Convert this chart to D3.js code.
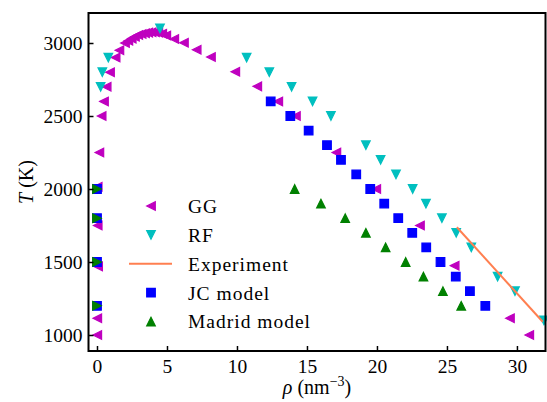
<!DOCTYPE html>
<html>
<head>
<meta charset="utf-8">
<script src="https://cdn.jsdelivr.net/npm/d3@7"></script>
<style>
body { margin: 0; background: #fff; }
text { font-family: "Liberation Serif", "DejaVu Serif", serif; fill: #000; }
</style>
</head>
<body>
<svg id="chart" width="547" height="402"></svg>
<script>

/// GG series (rho in nm^-3, T in K)
var ggRho = [0.02, 0.02, 0.08, 0.05, 0.05, 0.17, 0.33, 0.5, 0.69, 0.93, 1.33, 1.6, 2.0,
             2.24, 2.48, 2.71, 2.95, 3.19, 3.43, 3.66, 3.9, 4.14, 4.38, 4.66, 4.95,
             5.52, 6.21, 7.12, 8.14, 9.88, 11.45, 12.95, 14.21, 17.1, 19.95, 23.07, 25.55, 29.5, 30.88];
var ggT   = [1000, 1115, 1470, 1750, 2015, 2250, 2500, 2600, 2700, 2800, 2900, 2950, 3000,
             3015, 3030, 3043, 3055, 3062, 3067, 3071, 3073, 3073, 3071, 3064, 3052,
             3027, 3002, 2954, 2904, 2803, 2703, 2600, 2500, 2250, 2000, 1750, 1475, 1115, 1000];

/// RF series
var rfRho = [0.26, 0.38, 0.81, 4.5, 10.69, 12.31, 13.9, 15.4, 16.71, 19.21, 20.26, 21.36,
             22.55, 23.5, 24.64, 25.66, 26.74, 28.62, 29.86, 31.93];
var rfT   = [2700, 2800, 2900, 3100, 2900, 2800, 2700, 2600, 2500, 2300, 2200, 2100,
             2000, 1900, 1800, 1700, 1600, 1400, 1300, 1100];

/// Experiment
var expRho = [25.71, 31.84];
var expT   = [1738, 1091];

/// JC model
var jcRho = [0, 0, 0, 0, 12.41, 13.81, 15.12, 16.43, 17.43, 18.52, 19.52, 20.52, 21.52,
             22.52, 23.52, 24.54, 25.63, 26.64, 27.74];
var jcT   = [2000, 1800, 1500, 1200, 2600, 2500, 2400, 2300, 2200, 2100, 2000, 1900, 1800,
             1700, 1600, 1500, 1400, 1300, 1200];

/// Madrid model (liquid branch, vapour branch)
var madRho = [14.12, 16.0, 17.73, 19.21, 20.62, 22.05, 23.32, 24.71, 26.02];
var madT   = [2000, 1900, 1800, 1700, 1600, 1500, 1400, 1300, 1200];
var madVapRho = [0, 0, 0, 0];
var madVapT   = [2000, 1800, 1500, 1200];

var legendLabels = ["GG", "RF", "Experiment", "JC model", "Madrid model"];
var xTicks = [0, 5, 10, 15, 20, 25, 30];
var yTicks = [1000, 1500, 2000, 2500, 3000];

var FONT = '"Liberation Serif", "DejaVu Serif", serif';

var svg = d3.select("#chart"),
    margin = {top: 13, right: 1.5, bottom: 51, left: 88.5},
    width = +svg.attr("width") - margin.left - margin.right,
    height = +svg.attr("height") - margin.top - margin.bottom;

var g = svg.append("g").attr("transform", "translate(" + margin.left + "," + margin.top + ")");

var x = d3.scaleLinear().domain([-0.607, 32.04]).range([0, width]);
var y = d3.scaleLinear().domain([890.4, 3205.5]).range([height, 0]);

var ms = 8.6; /// marker size in px

/// triangle / square paths like matplotlib markers
function marker(kind, r) {
  if (kind == "<") return "M" + (-r) + ",0L" + r + "," + (-r) + "L" + r + "," + r + "Z";
  if (kind == ">") return "M" + r + ",0L" + (-r) + "," + (-r) + "L" + (-r) + "," + r + "Z";
  if (kind == "v") return "M0," + r + "L" + (-r) + "," + (-r) + "L" + r + "," + (-r) + "Z";
  if (kind == "^") return "M0," + (-r) + "L" + (-r) + "," + r + "L" + r + "," + r + "Z";
  return "M" + (-r) + "," + (-r) + "H" + r + "V" + r + "H" + (-r) + "Z";
}

function zip(a, b) { return a.map(function(d, i) { return {x: d, y: b[i]}; }); }

function scatter(xs, ys, kind, color) {
  g.append("g").selectAll("path")
    .data(zip(xs, ys))
    .enter().append("path")
      .attr("transform", function(d) { return "translate(" + x(d.x) + "," + y(d.y) + ")"; })
      .attr("d", marker(kind, ms / 2))
      .attr("fill", color)
      .attr("stroke", color)
      .attr("stroke-width", 1.2);
}

scatter(ggRho, ggT, "<", "#bf00bf");
scatter(rfRho, rfT, "v", "#00bfbf");

var line = d3.line().x(function(d) { return x(d.x); }).y(function(d) { return y(d.y); });
g.append("path")
  .datum(zip(expRho, expT))
  .attr("fill", "none")
  .attr("stroke", "#ff7f50")
  .attr("stroke-width", 2)
  .attr("d", line);

scatter(jcRho, jcT, "s", "#0000ff");
scatter(madRho, madT, "^", "#008000");
scatter(madVapRho, madVapT, ">", "#008000");

/// axes
var xAxis = d3.axisBottom(x).tickValues(xTicks).tickFormat(d3.format("d"))
    .tickSizeInner(-5).tickSizeOuter(0).tickPadding(7);
var yAxis = d3.axisLeft(y).tickValues(yTicks).tickFormat(d3.format("d"))
    .tickSizeInner(-5).tickSizeOuter(0).tickPadding(6);

var gx = g.append("g").attr("transform", "translate(0," + height + ")").call(xAxis);
var gy = g.append("g").call(yAxis);
[gx, gy].forEach(function(a) {
  a.attr("font-family", FONT).attr("font-size", 19.5);
  a.select(".domain").remove();
  a.selectAll(".tick line").attr("stroke", "#000").attr("stroke-width", 1.5);
  a.selectAll(".tick text").attr("fill", "#000").attr("font-family", FONT).attr("font-size", 19.5);
});
gx.selectAll(".tick text").attr("dy", "0.75em");

/// frame
g.append("rect")
  .attr("width", width).attr("height", height)
  .attr("fill", "none").attr("stroke", "#000").attr("stroke-width", 2);

/// axis labels
svg.append("text")
  .attr("transform", "translate(33," + (margin.top + height / 2) + ") rotate(-90)")
  .attr("text-anchor", "middle")
  .style("font-size", "20px")
  .html('<tspan font-style="italic">T</tspan> (K)');

svg.append("text")
  .attr("x", margin.left + width / 2).attr("y", 394)
  .attr("text-anchor", "middle")
  .style("font-size", "20px")
  .html('<tspan font-style="italic">ρ</tspan> (nm<tspan dy="-8" font-size="14px">−3</tspan><tspan dy="8">)</tspan>');

/// legend
var legendKinds = ["<", "v", "line", "s", "^"];
var legendColors = ["#bf00bf", "#00bfbf", "#ff7f50", "#0000ff", "#008000"];
var lg = svg.append("g").attr("transform", "translate(0,206)");
legendLabels.forEach(function(lab, i) {
  var row = lg.append("g").attr("transform", "translate(0," + (i * 28.9) + ")");
  if (legendKinds[i] == "line") {
    row.append("line").attr("x1", 129).attr("x2", 172).attr("y1", 0).attr("y2", 0)
      .attr("stroke", legendColors[i]).attr("stroke-width", 2);
  } else {
    row.append("path").attr("transform", "translate(151,0)")
      .attr("d", marker(legendKinds[i], ms / 2))
      .attr("fill", legendColors[i]).attr("stroke", legendColors[i]).attr("stroke-width", 1.2);
  }
  row.append("text").attr("x", 188).attr("y", 0).attr("dy", "0.35em")
    .style("font-size", "19.5px").style("letter-spacing", "1px")
    .text(lab);
});

</script>
</body>
</html>
